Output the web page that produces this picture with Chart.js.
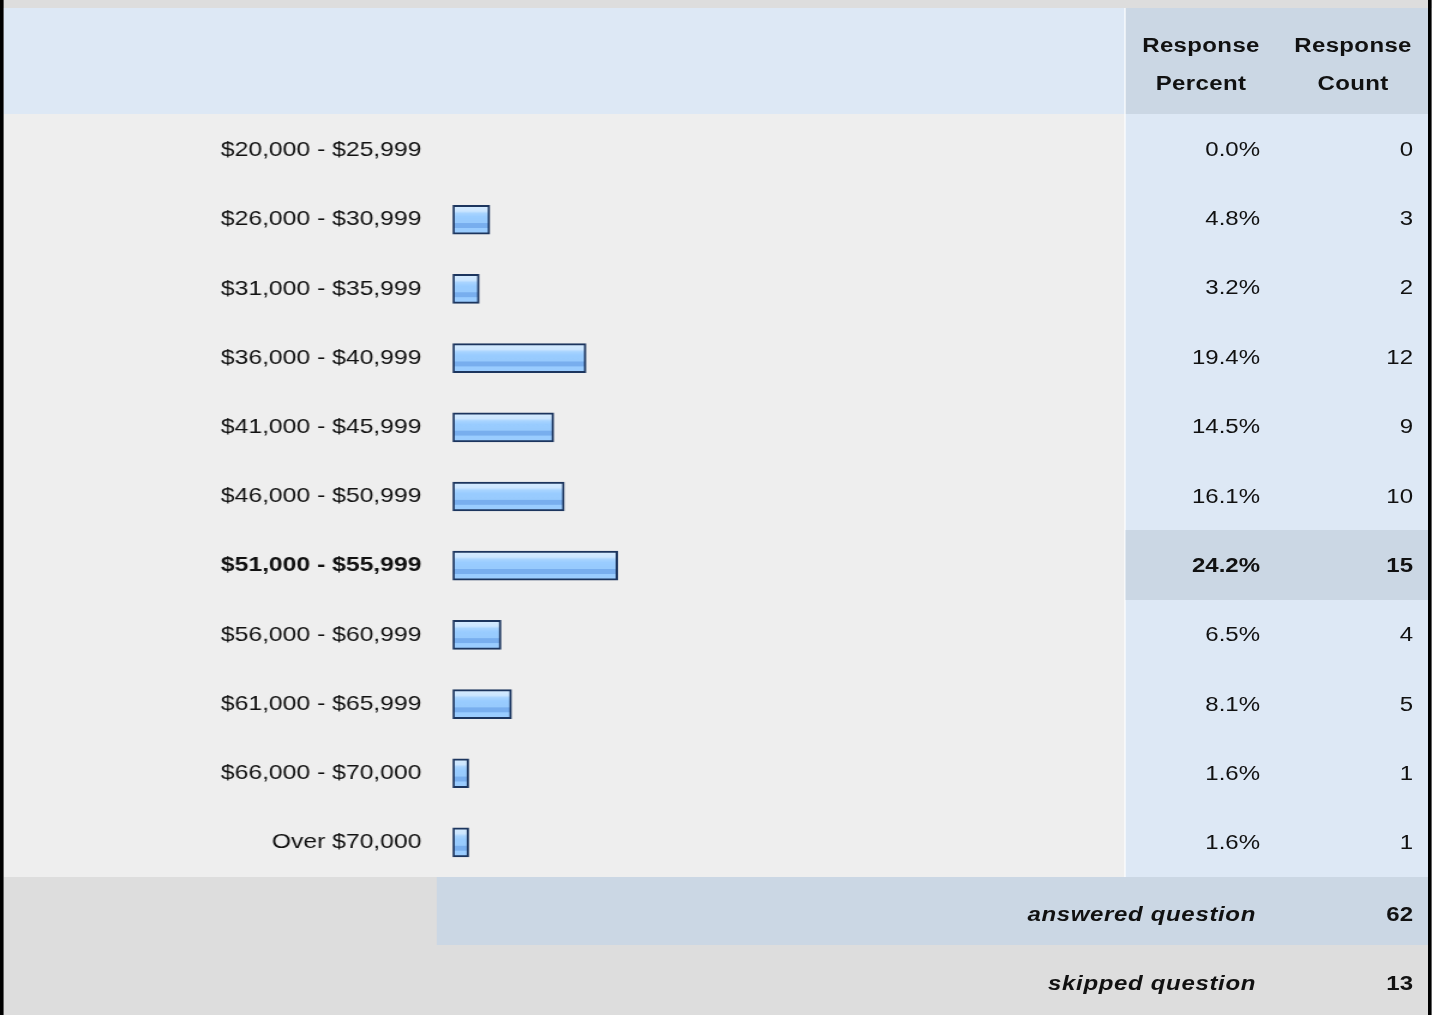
<!DOCTYPE html>
<html>
<head>
<meta charset="utf-8">
<script src="https://cdn.jsdelivr.net/npm/chart.js@4.4.0/dist/chart.umd.min.js"></script>
<style>
  html, body { margin: 0; padding: 0; background: #fff; }
  body { width: 1435px; height: 1015px; overflow: hidden; }
  /* the source is stretched wider than tall, so lay out at 1/1.2 width and stretch */
  #page {
    position: absolute; left: 0; top: 0;
    width: 1195.8px; height: 1015px;
    transform: scaleX(1.2); transform-origin: 0 0;
    font-family: "Liberation Sans", Arial, sans-serif; font-size: 20px; color: #111;
  }
  .box { position: absolute; }
  .txt { position: absolute; white-space: nowrap; line-height: 24px; }
  .r { text-align: right; }
  .hdr { font-weight: bold; text-align: center; line-height: 38px; letter-spacing: 0.3px; }
  .foot { font-weight: bold; font-style: italic; letter-spacing: 0.55px; }
  #incomeChart { position: absolute; left: 3.3px; top: 115.5px; display: block; }
</style>
</head>
<body>
<div id="page">
  <div class="box" style="left:0;top:0;width:1193.3px;height:8px;background:#dddddd"></div>
  <div class="box" style="left:3.3px;top:8px;width:934.2px;height:106px;background:#dde8f5"></div>
  <div class="box" style="left:937.5px;top:8px;width:252.5px;height:106px;background:#cbd7e4"></div>
  <div class="box" style="left:3.3px;top:114px;width:934.2px;height:763px;background:#eeeeee"></div>
  <div class="box" style="left:937.5px;top:114px;width:252.5px;height:763px;background:#dde8f5"></div>
  <div class="box" style="left:3.3px;top:877px;width:1186.7px;height:138px;background:#dddddd"></div>
  <div class="box" style="left:364.2px;top:877px;width:825.8px;height:68px;background:#cbd7e4"></div>
  <div class="box" style="left:0;top:0;width:3.3px;height:1015px;background:#000"></div>
  <div class="box" style="left:1190px;top:0;width:3.3px;height:1015px;background:#000"></div>

  <div class="txt hdr" style="left:937.5px;top:26px;width:126.7px">Response<br>Percent</div>
  <div class="txt hdr" style="left:1064.2px;top:26px;width:126.7px">Response<br>Count</div>

  <div id="cols"></div>

  <canvas id="incomeChart" width="934" height="761"></canvas>

  <div class="txt r foot" style="left:700px;top:902px;width:346.7px">answered question</div>
  <div class="txt r foot" id="answered" style="left:1100px;top:902px;width:77.5px;font-style:normal;letter-spacing:0"></div>
  <div class="txt r foot" style="left:700px;top:971px;width:346.7px">skipped question</div>
  <div class="txt r foot" id="skipped" style="left:1100px;top:971px;width:77.5px;font-style:normal;letter-spacing:0"></div>
</div>

<script>
const labels = ['$20,000 - $25,999', '$26,000 - $30,999', '$31,000 - $35,999', '$36,000 - $40,999',
  '$41,000 - $45,999', '$46,000 - $50,999', '$51,000 - $55,999', '$56,000 - $60,999',
  '$61,000 - $65,999', '$66,000 - $70,000', 'Over $70,000'];
const percents = [0.0, 4.8, 3.2, 19.4, 14.5, 16.1, 24.2, 6.5, 8.1, 1.6, 1.6];
const counts = [0, 3, 2, 12, 9, 10, 15, 4, 5, 1, 1];
const answered = 62;
const skipped = 13;

const topIdx = counts.indexOf(Math.max(...counts));
const rowH = 763 / labels.length;

// percent / count columns
const cols = document.getElementById('cols');
let html = '';
labels.forEach((_, i) => {
    const y = 114 + i * rowH;
    const w = i === topIdx ? 'font-weight:bold;' : '';
    if (i === topIdx) {
        html += `<div class="box" style="left:937.5px;top:${y}px;width:252.5px;height:${rowH}px;background:#cbd7e4"></div>`;
    }
    html += `<div class="txt r" style="${w}left:937.5px;top:${y + rowH / 2 - 12}px;width:112.5px">${percents[i].toFixed(1)}%</div>`;
    html += `<div class="txt r" style="${w}left:1064.2px;top:${y + rowH / 2 - 12}px;width:113.3px">${counts[i]}</div>`;
});
cols.innerHTML = html;
document.getElementById('answered').textContent = answered;
document.getElementById('skipped').textContent = skipped;

// glossy blue fill for each bar
function barFill(c) {
    const chart = c.chart;
    const s = chart.scales && chart.scales.y;
    if (!s || !chart.chartArea) return '#99ccff';
    const yc = s.getPixelForValue(c.dataIndex);
    const g = chart.ctx.createLinearGradient(0, yc - 14.5, 0, yc + 14.5);
    g.addColorStop(0, '#d6ecff');
    g.addColorStop(0.2, '#cce6ff');
    g.addColorStop(0.28, '#a8d4ff');
    g.addColorStop(0.4, '#99ccff');
    g.addColorStop(0.6, '#97cafd');
    g.addColorStop(0.63, '#78aeee');
    g.addColorStop(0.77, '#78aeee');
    g.addColorStop(0.8, '#99ccff');
    g.addColorStop(1, '#9ccdfe');
    return g;
}

new Chart(document.getElementById('incomeChart').getContext('2d'), {
    type: 'bar',
    data: {
        labels: labels,
        datasets: [{
            data: percents.map(p => p > 0 ? p : null),
            base: -0.83,
            backgroundColor: barFill,
            borderColor: '#1c355e',
            borderWidth: 2,
            borderSkipped: false,
            barThickness: 29
        }]
    },
    options: {
        indexAxis: 'y',
        responsive: false,
        devicePixelRatio: 1,
        animation: false,
        layout: { padding: 0 },
        plugins: { legend: { display: false }, tooltip: { enabled: false } },
        scales: {
            x: { display: false, min: -0.83, max: 101.1 },
            y: {
                grid: { display: false, drawTicks: false },
                border: { display: false },
                afterFit: (scale) => {
                    scale.width = 374.2;
                    // rows fill the whole band, no label padding above/below
                    scale.paddingTop = 0;
                    scale.paddingBottom = 0;
                },
                ticks: {
                    padding: 26,
                    color: '#111',
                    font: (c) => ({
                        family: '"Liberation Sans", Arial, sans-serif',
                        size: 20.6,
                        weight: c.index === topIdx ? 'bold' : 'normal'
                    })
                }
            }
        }
    }
});
</script>
</body>
</html>
